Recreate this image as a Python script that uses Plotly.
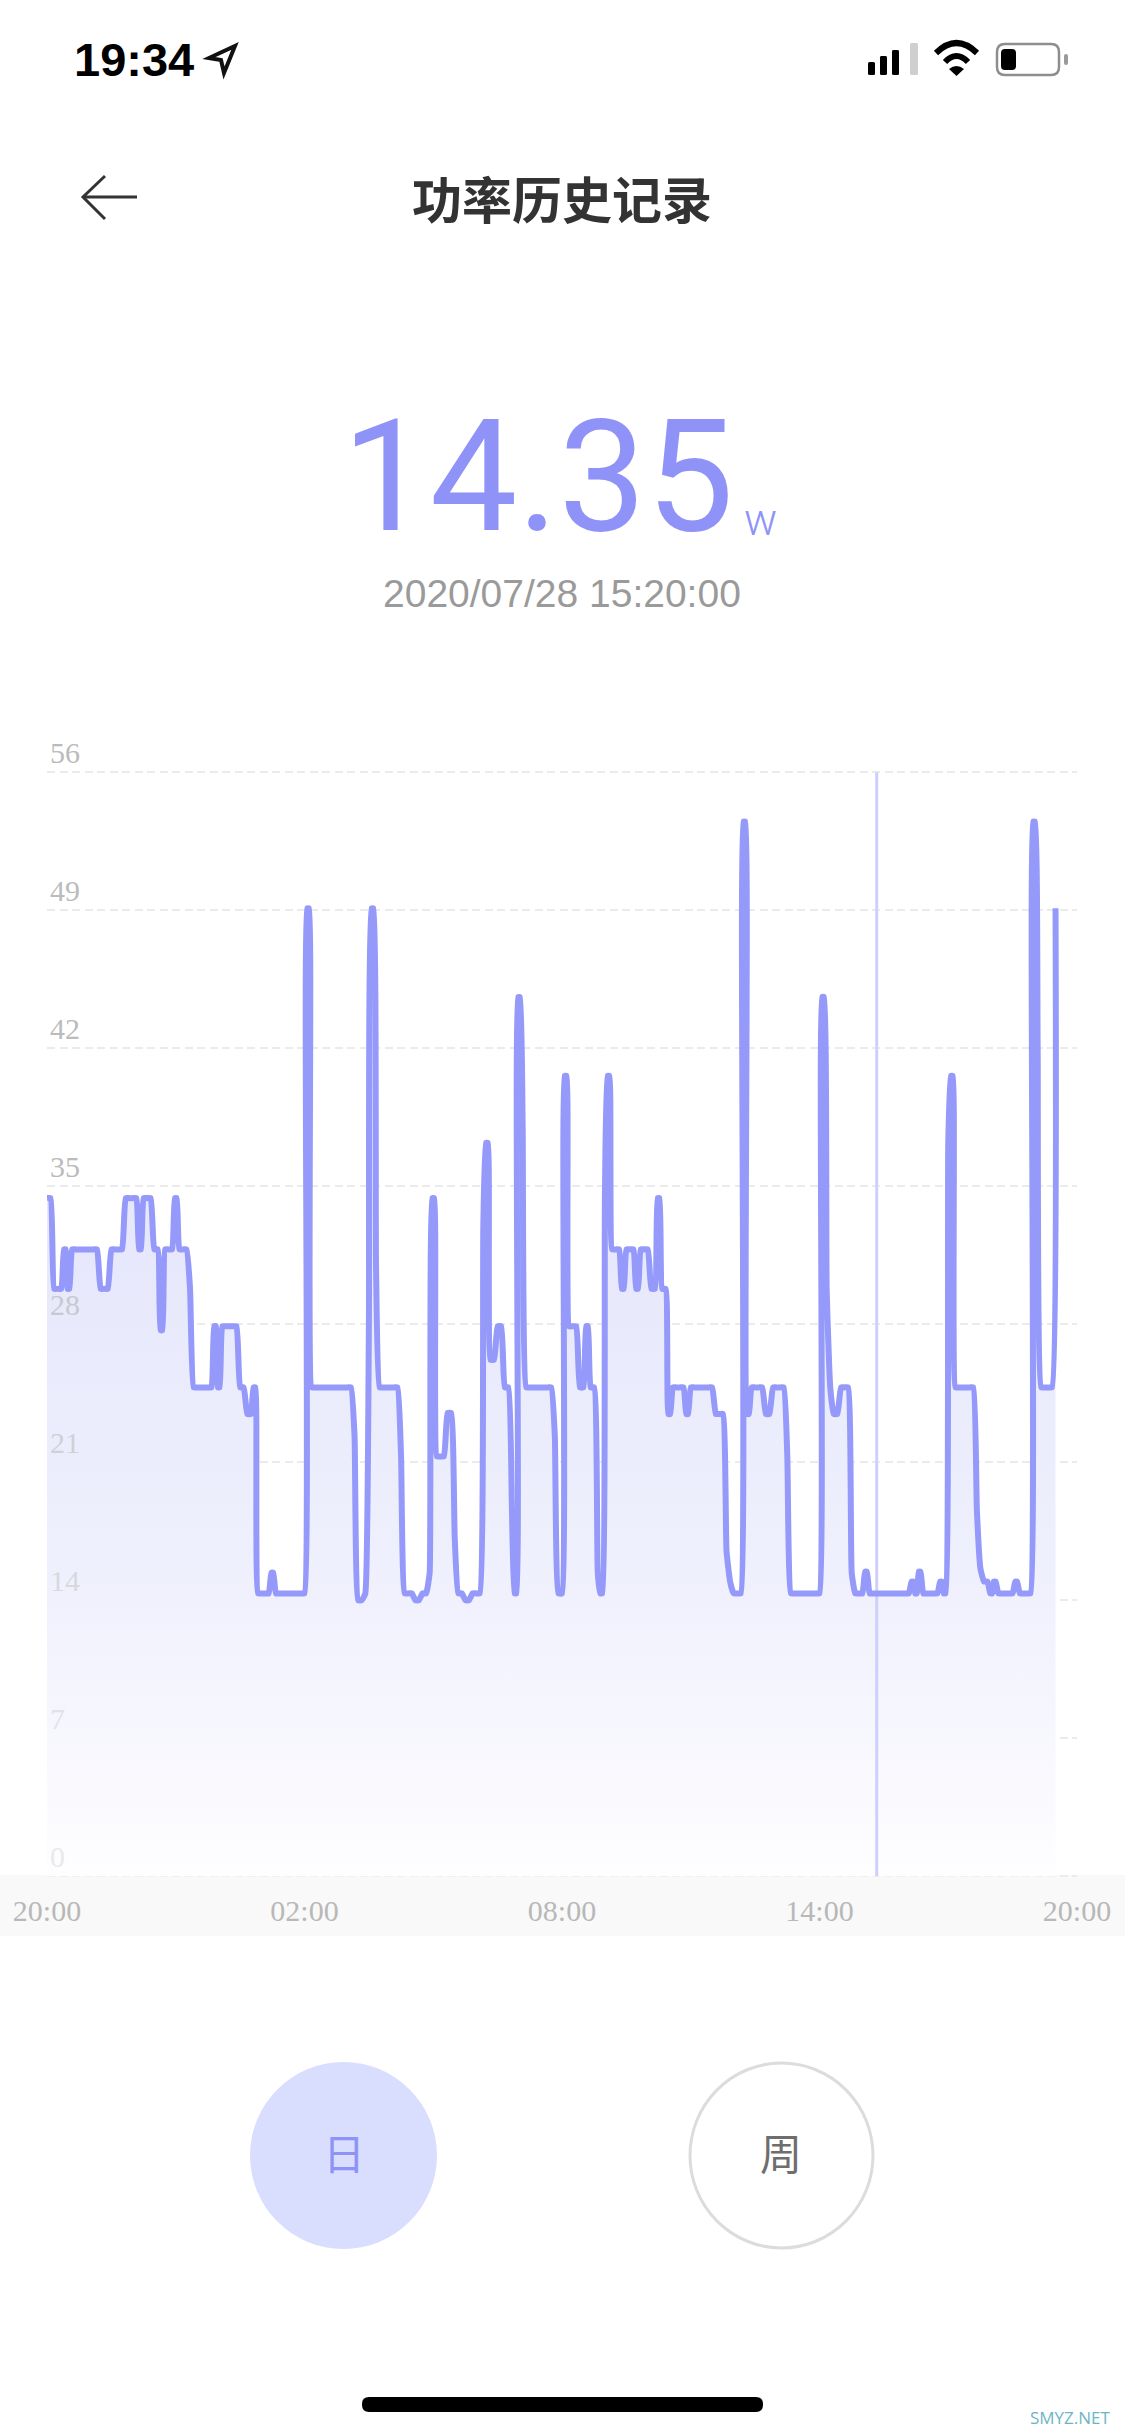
import plotly.graph_objects as go

# Power readings in watts, one row per hour, one value every 5 minutes from 20:00
hour_20 = [34.4,34.4,29.8,29.8,29.8,31.8,29.8,31.8,31.8,31.8,31.8,31.8]
hour_21 = [31.8,31.8,31.8,29.8,29.8,29.8,31.8,31.8,31.8,31.8,34.4,34.4]
hour_22 = [34.4,34.4,31.8,34.4,34.4,34.4,31.8,31.8,27.7,31.8,31.8,31.8]
hour_23 = [34.4,31.8,31.8,31.8,29.8,24.8,24.8,24.8,24.8,24.8,24.8,27.9]
hour_00 = [24.8,27.9,27.9,27.9,27.9,27.9,24.8,24.8,23.45,23.45,24.8,14.35]
hour_01 = [14.35,14.35,14.35,15.4,14.35,14.35,14.35,14.35,14.35,14.35,14.35,14.35]
hour_02 = [14.35,49.1,24.8,24.8,24.8,24.8,24.8,24.8,24.8,24.8,24.8,24.8]
hour_03 = [24.8,24.8,22.3,14.0,14.0,14.35,27.9,49.1,31.0,24.8,24.8,24.8]
hour_04 = [24.8,24.8,24.8,21.3,14.35,14.35,14.35,14.0,14.0,14.35,14.35,15.4]
hour_05 = [34.4,21.3,21.3,21.3,23.5,23.5,17.2,14.35,14.35,14.0,14.0,14.35]
hour_06 = [14.35,14.35,33.0,37.2,26.2,26.2,27.9,27.9,24.8,24.8,18.6,14.35]
hour_07 = [44.6,38.0,24.8,24.8,24.8,24.8,24.8,24.8,24.8,24.8,22.3,14.35]
hour_08 = [14.35,40.6,27.9,27.9,27.9,24.8,24.8,27.9,24.8,24.8,15.4,14.35]
hour_09 = [34.4,40.6,31.8,31.8,31.8,29.8,31.8,31.8,31.8,29.8,31.8,31.8]
hour_10 = [31.8,29.8,29.8,34.4,29.8,29.8,23.45,24.8,24.8,24.8,24.8,23.45]
hour_11 = [24.8,24.8,24.8,24.8,24.8,24.8,24.8,23.45,23.45,23.45,16.5,14.95]
hour_12 = [14.35,14.35,14.35,53.5,23.45,24.8,24.8,24.8,24.8,23.45,23.45,24.8]
hour_13 = [24.8,24.8,24.8,21.3,14.35,14.35,14.35,14.35,14.35,14.35,14.35,14.35]
hour_14 = [14.35,44.6,29.8,24.8,23.45,23.45,24.8,24.8,24.8,15.4,14.35,14.35]
hour_15 = [14.35,15.45,14.35,14.35,14.35,14.35,14.35,14.35,14.35,14.35,14.35,14.35]
hour_16 = [14.35,14.35,14.95,14.35,15.45,14.35,14.35,14.35,14.35,14.35,14.95,14.35]
hour_17 = [37.2,40.6,24.8,24.8,24.8,24.8,24.8,24.8,18.6,15.6,14.95,14.95]
hour_18 = [14.35,14.95,14.35,14.35,14.35,14.35,14.35,14.95,14.35,14.35,14.35,14.35]
hour_19 = [53.5,42.0,24.8,24.8,24.8,24.8,49.1]

watts = (hour_20 + hour_21 + hour_22 + hour_23 + hour_00 + hour_01 + hour_02 + hour_03
         + hour_04 + hour_05 + hour_06 + hour_07 + hour_08 + hour_09 + hour_10 + hour_11
         + hour_12 + hour_13 + hour_14 + hour_15 + hour_16 + hour_17 + hour_18 + hour_19)
minutes = [5 * i for i in range(len(watts))]

# A one-sample peak or dip is drawn with a short flat top, as the rounded tips in the app are.
TIP = 1.3
line_x, line_y = [], []
for i, (m, v) in enumerate(zip(minutes, watts)):
    inner = 0 < i < len(watts) - 1
    if inner and (v - watts[i - 1]) * (v - watts[i + 1]) > 0:
        line_x += [m - TIP, m + TIP]
        line_y += [v, v]
    else:
        line_x.append(m)
        line_y.append(v)

cursor_minute = [1160, 1160]
cursor_span = [0, 56]

x_tick_values = [0, 360, 720, 1080, 1440]
x_tick_labels = ["20:00", "02:00", "08:00", "14:00", "20:00"]
y_tick_values = [0, 7, 14, 21, 28, 35, 42, 49, 56]
y_tick_colors = ["#E9E9EA", "#E2E2E6", "#D8D8DE", "#D0D0D8", "#C8C8D0", "#BBBBBB", "#BBBBBB", "#BBBBBB", "#BBBBBB"]

W, H = 1125, 2436
LINE = "#9499FA"
ACCENT = "#8F93F7"
PAD = 0.2  # y range padding so the 0 and 56 gridlines stay on the plot
UNIT = 138 / 7


def px(x):
    return x / W


def py(y):
    return 1 - y / H


def path(*cmds):
    """cmds like ('M', x, y), ('L', x, y), ('Q', x1, y1, x, y), ('Z',) in page pixels"""
    out = []
    for c in cmds:
        out.append(c[0])
        vals = c[1:]
        pairs = [f"{px(vals[i]):.5f},{py(vals[i+1]):.5f}" for i in range(0, len(vals), 2)]
        out.append(" ".join(pairs))
    return " ".join(out)


def rrect(x0, y0, x1, y1, r):
    return path(("M", x0 + r, y0), ("L", x1 - r, y0), ("Q", x1, y0, x1, y0 + r), ("L", x1, y1 - r),
                ("Q", x1, y1, x1 - r, y1), ("L", x0 + r, y1), ("Q", x0, y1, x0, y1 - r), ("L", x0, y0 + r),
                ("Q", x0, y0, x0 + r, y0), ("Z",))


def text(s, x, y, size, color, family="Liberation Sans", xanchor="center", yanchor="middle", weight=None):
    f = dict(family=family, size=size, color=color)
    if weight:
        f["weight"] = weight
    return dict(text=s, x=px(x), y=py(y), xref="paper", yref="paper", xanchor=xanchor, yanchor=yanchor,
                showarrow=False, font=f, borderpad=0)


def shape_path(d, fill=None, line=None, width=0):
    return dict(type="path", path=d, xref="paper", yref="paper", fillcolor=fill or "rgba(0,0,0,0)",
                line=dict(color=line or "rgba(0,0,0,0)", width=width))


def circle(x0, y0, x1, y1, fill=None, line=None, width=0):
    return dict(type="circle", xref="paper", yref="paper", x0=px(x0), x1=px(x1), y0=py(y0), y1=py(y1),
                fillcolor=fill or "rgba(0,0,0,0)", line=dict(color=line or "rgba(0,0,0,0)", width=width))


shapes = [
    # axis label band
    dict(type="rect", xref="paper", yref="paper", x0=0, x1=1, y0=py(1936), y1=py(1875),
         fillcolor="#F9F9F9", line=dict(width=0), layer="below"),
    # location arrow
    shape_path(path(("M", 209, 58), ("L", 235, 46), ("L", 224, 73), ("L", 221, 60), ("Z",)), line="#111111", width=4),
    # signal bars
    shape_path(rrect(868, 62, 875, 75, 1.5), fill="#000000"),
    shape_path(rrect(880, 56, 887, 75, 1.5), fill="#000000"),
    shape_path(rrect(892, 50, 899, 75, 1.5), fill="#000000"),
    shape_path(rrect(910, 43, 918, 75, 1.5), fill="#CFCFCF"),
    # wifi
    shape_path(path(("M", 936, 53), ("Q", 956.5, 33, 977, 53)), line="#000000", width=6),
    shape_path(path(("M", 945, 62), ("Q", 956.5, 50, 968, 62)), line="#000000", width=6),
    shape_path(path(("M", 949, 69), ("L", 956.5, 76), ("L", 964, 69), ("Q", 956.5, 63, 949, 69), ("Z",)), fill="#000000"),
    # battery
    shape_path(rrect(997, 44, 1059, 75, 8), line="#8E8E8E", width=2.5),
    shape_path(rrect(1001, 49, 1016, 70, 4), fill="#000000"),
    shape_path(rrect(1064, 54, 1068, 65, 2), fill="#9A9A9A"),
    # back arrow
    shape_path(path(("M", 105, 176), ("L", 83, 197), ("L", 105, 219)), line="#333333", width=3),
    shape_path(path(("M", 83, 197), ("L", 137, 197)), line="#333333", width=3),
    # period buttons
    circle(250, 2062, 437, 2249, fill="#DADEFE"),
    circle(690, 2063, 873, 2248, line="#DCDCDC", width=3),
    # home indicator
    shape_path(rrect(362, 2397, 763, 2412, 7), fill="#000000"),
]

annotations = [
    text("<b>19:34</b>", 134, 60, 47, "#000000"),
    text("<b>功率历史记录</b>", 561.5, 197, 50, "#333333", family="Noto Sans CJK SC"),
    text("14.35", 538, 477, 156, ACCENT, family="Roboto", weight=400),
    text("w", 760, 520, 44, ACCENT, family="Roboto", weight=300),
    text("2020/07/28 15:20:00", 562, 593, 39, "#9A9A9A"),
    text("日", 343.5, 2151, 42, ACCENT, family="Noto Sans CJK SC"),
    text("周", 781, 2151, 42, "#6E6E6E", family="Noto Sans CJK SC"),
    text("SMYZ.NET", 1070, 2417, 17, "#6DB5C6", family="Open Sans"),
]

fig = go.Figure()
fig.add_trace(go.Scatter(
    x=line_x, y=line_y, mode="lines", line=dict(width=0, shape="spline", smoothing=0.4), fill="tozeroy",
    fillgradient=dict(type="vertical", start=0, stop=56,
                      colorscale=[[0, "#FEFEFF"], [0.125, "#F7F7FE"], [0.25, "#F0F1FD"], [0.55, "#E7E8FB"], [1, "#E2E3FA"]]),
    hoverinfo="skip", showlegend=False))
fig.add_trace(go.Scatter(
    x=cursor_minute, y=cursor_span, mode="lines", line=dict(color="#CDD0FA", width=3),
    hoverinfo="skip", showlegend=False))
fig.add_trace(go.Scatter(
    x=line_x, y=line_y, mode="lines", line=dict(color=LINE, width=6, shape="spline", smoothing=0.4),
    hoverinfo="skip", showlegend=False, cliponaxis=False))

fig.update_layout(
    width=W, height=H, margin=dict(l=0, r=0, t=0, b=0, autoexpand=False), autosize=False,
    paper_bgcolor="white", plot_bgcolor="rgba(0,0,0,0)", showlegend=False,
    shapes=shapes, annotations=annotations,
    xaxis=dict(domain=[47 / W, 1077 / W], range=[0, 1440], showgrid=False, zeroline=False, showline=False,
               tickmode="array", tickvals=x_tick_values, ticktext=x_tick_labels, ticks="outside",
               ticklen=4, tickcolor="rgba(0,0,0,0)", anchor="y", ticklabeloverflow="allow",
               tickfont=dict(family="Liberation Serif", size=30, color="#B8B8B8")),
    yaxis=dict(domain=[1 - (1876.3 + PAD * UNIT) / H, 1 - (772.3 - PAD * UNIT) / H], range=[-PAD, 56 + PAD],
               zeroline=False, showline=False,
               showgrid=True, gridcolor="#EBEBEB", gridwidth=1.5, griddash="8px,4.5px",
               tickmode="array", tickvals=y_tick_values,
               ticktext=[f'<span style="color:{c}">{v}</span>' for v, c in zip(y_tick_values, y_tick_colors)],
               ticklabelposition="inside", ticklabelshift=-20, ticks="", anchor="x", ticklabeloverflow="allow",
               tickfont=dict(family="Liberation Serif", size=30, color="#BBBBBB")),
)

fig.write_html("out.html", config=dict(displayModeBar=False),
               post_script="document.body.style.margin='0';")
